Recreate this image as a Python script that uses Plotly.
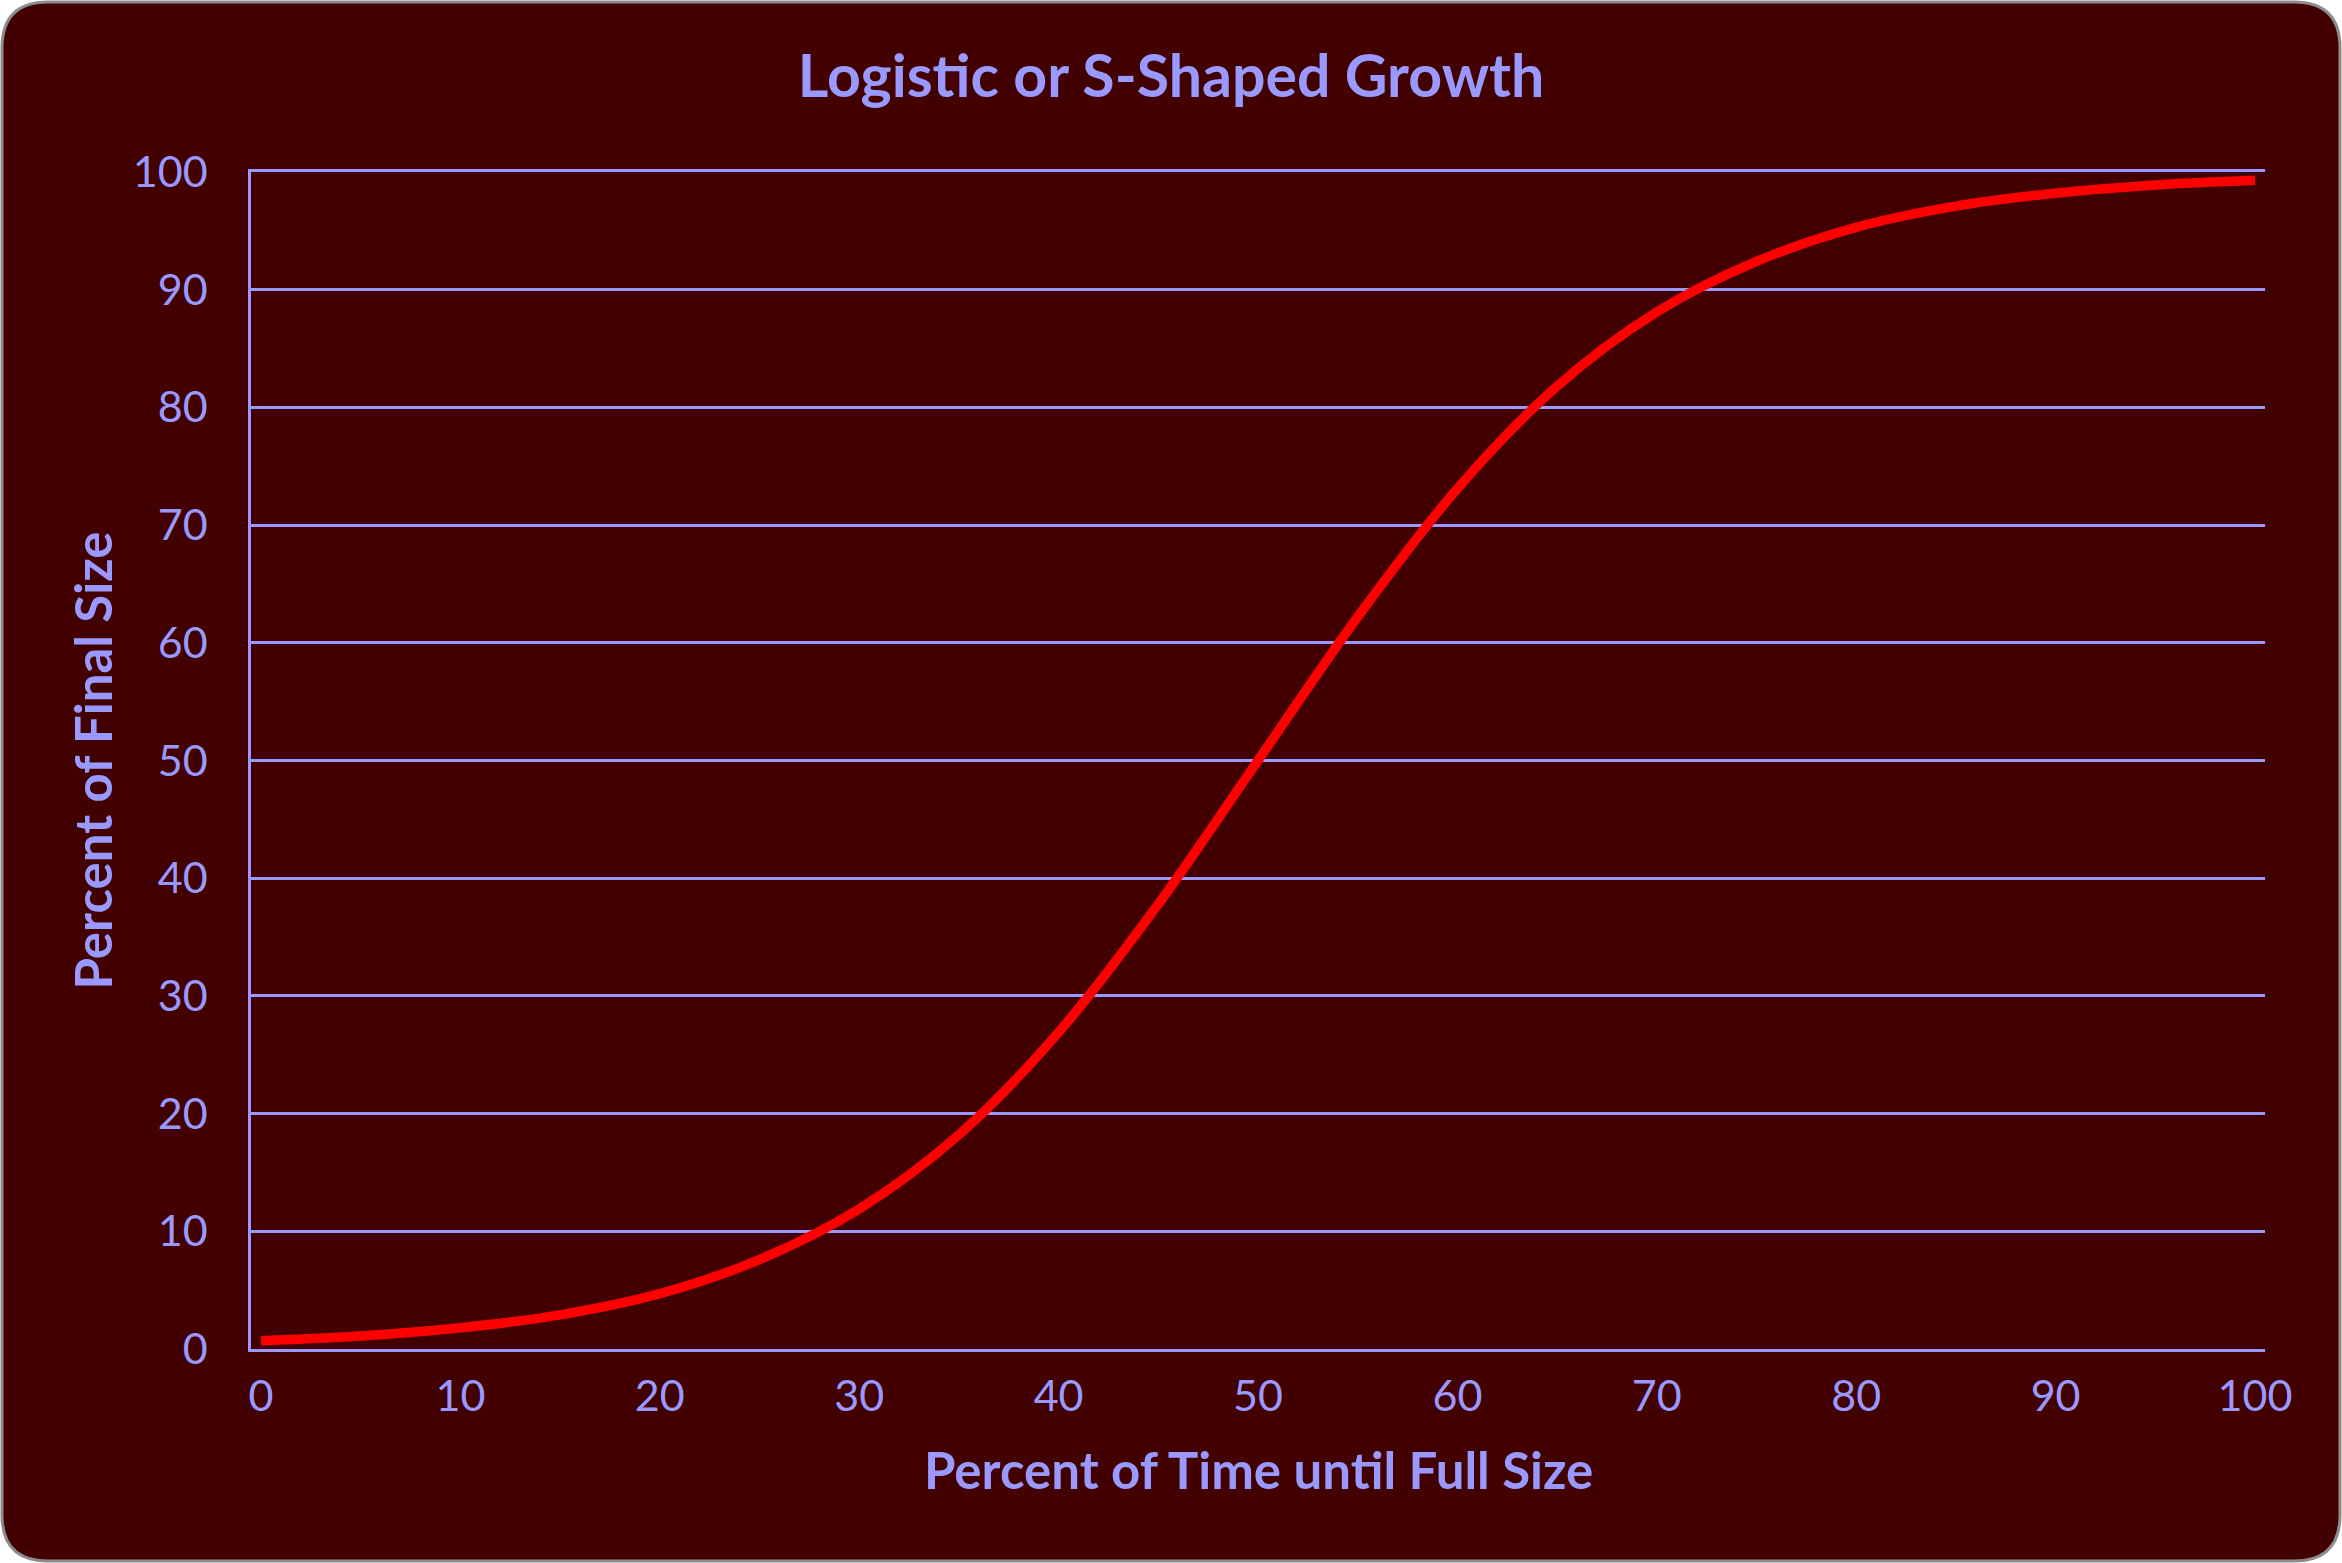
import plotly.graph_objects as go

# ---- data ----
time_pct = [0, 5, 10, 15, 20, 25, 30, 35, 40, 45, 50, 55, 60, 65, 70, 75, 80, 85, 90, 95, 100]
size_pct = [0.7, 1.1, 1.8, 2.9, 4.7, 7.6, 11.9, 18.2, 26.9, 37.8, 50.0, 62.2, 73.1, 81.8,
            88.1, 92.4, 95.3, 97.1, 98.2, 98.9, 99.3]
x_ticks = [0, 10, 20, 30, 40, 50, 60, 70, 80, 90, 100]
y_ticks = [0, 10, 20, 30, 40, 50, 60, 70, 80, 90, 100]

title_text = "Logistic or S-Shaped Growth"
x_title = "Percent of Time until Full Size"
y_title = "Percent of Final Size"

# ---- style ----
W, H = 2342, 1563
L, R, T, B = 251, 2265, 172, 1349   # plot area in pixels
BG = "#420000"
FG = "#9999FF"
FONT = "Lato"


def px(xp):
    return (xp - L) / (R - L)


def py(yp):
    return (B - yp) / (B - T)


# rounded page background in paper coordinates
x0, x1, y0, y1, r = 2, W - 2, 2, H - 2, 46
path = (
    f"M {px(x0 + r)},{py(y0)} L {px(x1 - r)},{py(y0)} "
    f"Q {px(x1)},{py(y0)} {px(x1)},{py(y0 + r)} "
    f"L {px(x1)},{py(y1 - r)} Q {px(x1)},{py(y1)} {px(x1 - r)},{py(y1)} "
    f"L {px(x0 + r)},{py(y1)} Q {px(x0)},{py(y1)} {px(x0)},{py(y1 - r)} "
    f"L {px(x0)},{py(y0 + r)} Q {px(x0)},{py(y0)} {px(x0 + r)},{py(y0)} Z"
)

fig = go.Figure()
fig.add_trace(go.Scatter(
    x=time_pct, y=size_pct, mode="lines",
    line=dict(color="#FF0000", width=9.5, shape="spline", smoothing=1.0),
    hoverinfo="skip", showlegend=False,
))

fig.update_layout(
    width=W, height=H,
    margin=dict(l=L, r=W - R, t=T, b=H - B, pad=0),
    paper_bgcolor="white",
    plot_bgcolor=BG,
    font=dict(family=FONT, color=FG, size=43),
    shapes=[dict(type="path", path=path, xref="paper", yref="paper",
                 fillcolor=BG, line=dict(color="#8c8c8c", width=3), layer="below")],
    title=dict(text=title_text, x=0.5, xref="container", xanchor="center",
               y=1 - 76 / H, yref="container", yanchor="middle",
               font=dict(family=FONT, size=59, color=FG, weight="bold")),
    xaxis=dict(range=[-0.5, 100.5], tickvals=x_ticks, ticktext=[str(v) for v in x_ticks],
               showgrid=False, zeroline=False, showline=True, mirror=True,
               linecolor=FG, linewidth=2.5,
               ticks="outside", ticklen=8, tickcolor="rgba(0,0,0,0)",
               tickfont=dict(family=FONT, size=43, color=FG), fixedrange=True),
    yaxis=dict(range=[0, 100], tickvals=y_ticks, ticktext=[str(v) for v in y_ticks],
               showgrid=True, gridcolor=FG, gridwidth=2.5,
               zeroline=False, showline=True, linecolor=FG, linewidth=2.5,
               ticks="outside", ticklen=32, tickcolor="rgba(0,0,0,0)",
               tickfont=dict(family=FONT, size=43, color=FG), fixedrange=True),
    annotations=[
        dict(text=x_title, xref="paper", yref="paper", x=0.5, y=py(1470),
             xanchor="center", yanchor="middle", showarrow=False,
             font=dict(family=FONT, size=51, color=FG, weight="bold")),
        dict(text=y_title, xref="paper", yref="paper", x=px(92), y=0.5,
             xanchor="center", yanchor="middle", showarrow=False, textangle=-90,
             font=dict(family=FONT, size=51, color=FG, weight="bold")),
    ],
)

fig.write_html("out.html", config={"displayModeBar": False},
               post_script="document.body.style.margin='0';document.body.style.overflow='hidden';")
